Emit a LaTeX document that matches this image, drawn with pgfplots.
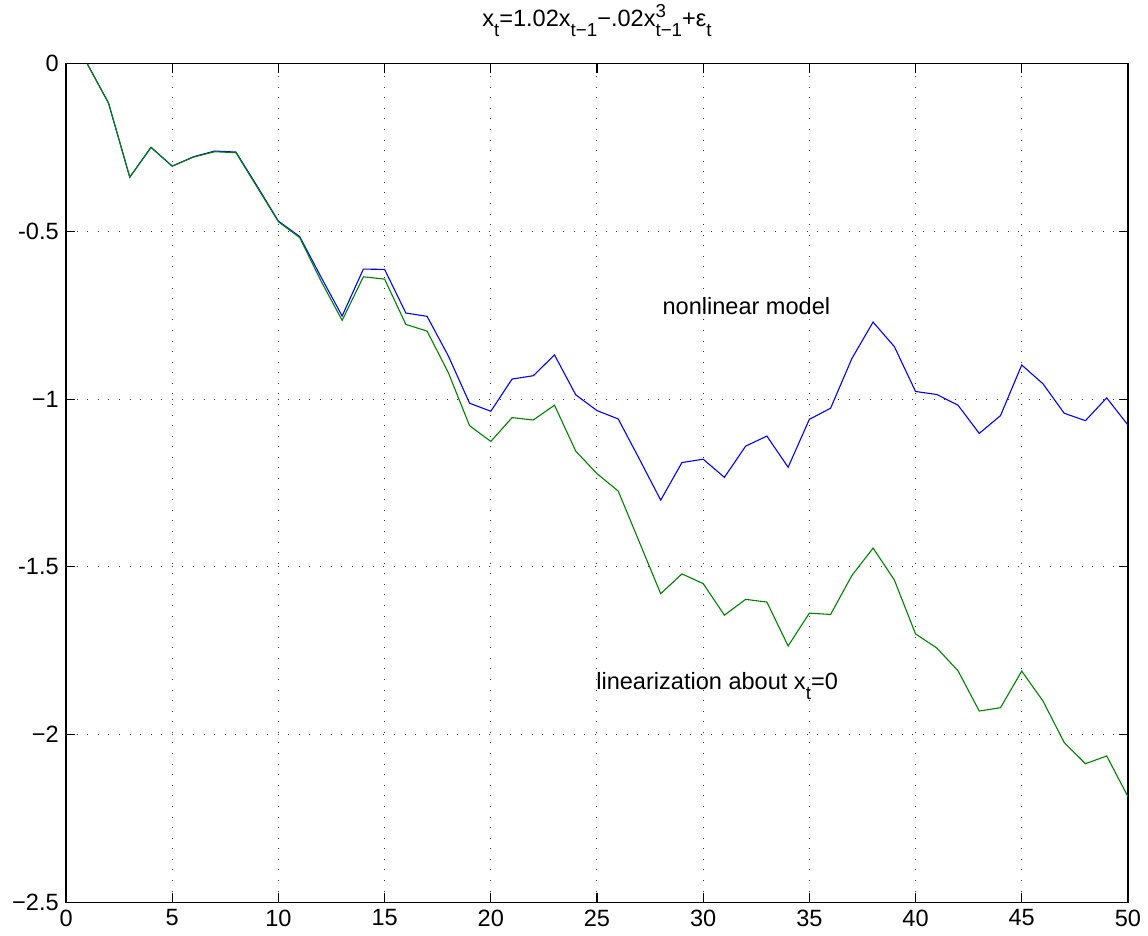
\documentclass[border=0pt]{standalone}
\usepackage{fontspec}
\setmainfont{Liberation Sans}
\usepackage{pgfplots}
\pgfplotsset{compat=1.18}
\usetikzlibrary{calc}
\newcommand{\sbs}[1]{\raisebox{-0.42em}{\fontsize{9.4bp}{10bp}\selectfont #1}}
\newcommand{\sps}[1]{\raisebox{0.38em}{\fontsize{9.4bp}{10bp}\selectfont #1}}
\pgfplotstableread{
x y
1 0
2 -0.117
3 -0.338
4 -0.249
5 -0.305
6 -0.277
7 -0.260
8 -0.263
9 -0.365
10 -0.469
11 -0.515
12 -0.635
13 -0.752
14 -0.612
15 -0.613
16 -0.743
17 -0.753
18 -0.871
19 -1.012
20 -1.036
21 -0.940
22 -0.930
23 -0.868
24 -0.987
25 -1.034
26 -1.059
27 -1.179
28 -1.301
29 -1.189
30 -1.179
31 -1.233
32 -1.140
33 -1.110
34 -1.203
35 -1.060
36 -1.027
37 -0.879
38 -0.770
39 -0.843
40 -0.977
41 -0.986
42 -1.018
43 -1.102
44 -1.049
45 -0.898
46 -0.954
47 -1.042
48 -1.064
49 -0.996
50 -1.077
}\nonlin
\pgfplotstableread{
x y
1 0
2 -0.117
3 -0.338
4 -0.249
5 -0.305
6 -0.278
7 -0.262
8 -0.265
9 -0.368
10 -0.471
11 -0.518
12 -0.647
13 -0.765
14 -0.635
15 -0.642
16 -0.777
17 -0.797
18 -0.921
19 -1.079
20 -1.126
21 -1.055
22 -1.062
23 -1.018
24 -1.155
25 -1.222
26 -1.274
27 -1.427
28 -1.580
29 -1.521
30 -1.550
31 -1.644
32 -1.597
33 -1.605
34 -1.736
35 -1.638
36 -1.642
37 -1.526
38 -1.444
39 -1.539
40 -1.700
41 -1.742
42 -1.810
43 -1.930
44 -1.920
45 -1.811
46 -1.900
47 -2.024
48 -2.087
49 -2.064
50 -2.185
}\lin
\begin{document}
\fontsize{11.8bp}{14bp}\selectfont
\begin{tikzpicture}
\begin{axis}[
  scale only axis, width=532bp, height=420bp,
  xmin=0, xmax=50, ymin=-2.5, ymax=0,
  xtick={0,5,10,15,20,25,30,35,40,45,50},
  xticklabels={0,5,10,15,20,25,30,35,40,45,50},
  ytick={-2.5,-2,-1.5,-1,-0.5,0},
  yticklabels={−2.5,−2,-1.5,−1,-0.5,0},
  tick align=inside,
  major tick length=4.5bp,
  tick style={black, line width=0.6bp},
  axis line style={black, line width=0.6bp},
  grid=major,
  major grid style={black!80, line width=0.5bp, dash pattern=on 0.5bp off 4.8bp},
  every tick label/.append style={font=\fontsize{11.8bp}{14bp}\selectfont},
  xticklabel style={inner sep=3.5bp},
  yticklabel style={inner sep=3.5bp},
  clip=false,
]
\addplot[blue, line width=0.55bp] table[x=x,y=y] {\nonlin};
\addplot[color={rgb,1:red,0;green,0.5;blue,0}, line width=0.55bp] table[x=x,y=y] {\lin};
\node[anchor=base west, inner sep=0pt] at (axis cs:28.07,-0.747) {nonlinear model};
\node[anchor=base west, inner sep=0pt] at (axis cs:24.95,-1.865) {linearization about x\sbs{t}=0};
\node[anchor=base, inner sep=0pt] at (rel axis cs:0.5,1) [yshift=18.5bp]
  {x\sbs{t}=1.02x\sbs{t−1}−.02x\rlap{\sps{3}}\sbs{t−1}+ε\sbs{t}};
\end{axis}
\path ($(current axis.south west)+(-33.1bp,-16.5bp)$) rectangle ($(current axis.north east)+(9bp,32bp)$);
\end{tikzpicture}
\end{document}
